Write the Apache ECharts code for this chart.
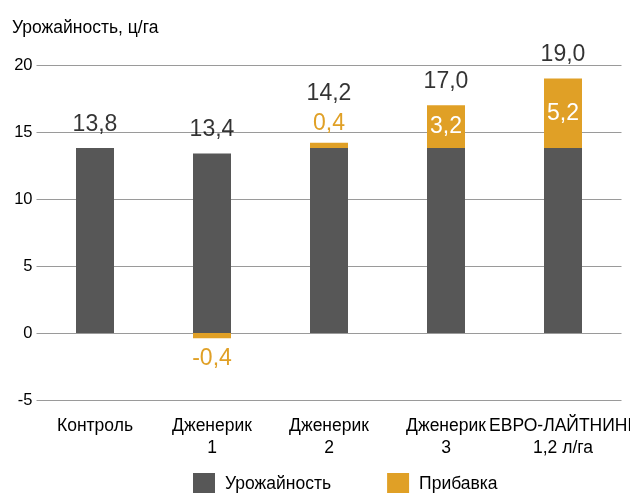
<!DOCTYPE html>
<html>
<head>
<meta charset="utf-8">
<script src="https://cdn.jsdelivr.net/npm/echarts@6/dist/echarts.min.js"></script>
<style>
  html, body { margin: 0; padding: 0; background: #fff; }
  #chart { width: 630px; height: 493px; }
</style>
</head>
<body>
<div id="chart"></div>
<script>
// категории и значения
const categories = ['Контроль', 'Дженерик\n1', 'Дженерик\n2', 'Дженерик\n3', 'ЕВРО-ЛАЙТНИНГ\n1,2 л/га'];
const baseYield = [13.8, 13.4, 13.8, 13.8, 13.8];
const gain = [0, -0.4, 0.4, 3.2, 5.2];
const totals = [13.8, 13.4, 14.2, 17.0, 19.0];
const yTicks = [-5, 0, 5, 10, 15, 20];

const DARK = '#575757';
const ORANGE = '#e0a026';
const FONT = '"Liberation Sans", Arial, Helvetica, sans-serif';

const fmt = v => v.toFixed(1).replace('.', ',');

// прибавка: маленькие значения подписываем снаружи, большие внутри
const gainData = gain.map(v => {
  if (v === 0) return { value: v, label: { show: false } };
  if (v < 0) return { value: v, label: { show: true, position: 'bottom', distance: 9, color: ORANGE } };
  if (v < 1) return { value: v, label: { show: true, position: 'top', distance: 8, color: ORANGE } };
  return { value: v, label: { show: true, position: 'inside', color: '#fff' } };
});

// итоговые подписи над столбиками
const totalData = totals.map((v, i) => ({
  value: v,
  label: { distance: (gain[i] > 0 && gain[i] < 1) ? 38 : 12 }
}));

const chart = echarts.init(document.getElementById('chart'));
chart.setOption({
  animation: false,
  textStyle: { fontFamily: FONT },
  title: {
    text: 'Урожайность, ц/га',
    left: 7,
    top: 14,
    textStyle: { fontFamily: FONT, fontSize: 17.5, fontWeight: 'normal', color: '#000' }
  },
  legend: {
    data: ['Урожайность', 'Прибавка'],
    left: 193,
    top: 473,
    padding: 0,
    itemWidth: 22,
    itemHeight: 22,
    itemGap: 56,
    icon: 'rect',
    textStyle: { fontFamily: FONT, fontSize: 17.5, color: '#000', padding: [0, 0, 0, 5] }
  },
  grid: { left: 36.5, right: 8.5, top: 65, bottom: 93, outerBoundsMode: 'none', containLabel: false },
  xAxis: {
    type: 'category',
    data: categories,
    axisLine: { show: false },
    axisTick: { show: false },
    axisLabel: {
      interval: 0,
      margin: 15,
      fontFamily: FONT,
      fontSize: 17.5,
      lineHeight: 22,
      color: '#000'
    }
  },
  yAxis: {
    type: 'value',
    min: yTicks[0],
    max: yTicks[yTicks.length - 1],
    interval: 5,
    axisLine: { show: false },
    axisTick: { show: false },
    axisLabel: { margin: 4, fontFamily: FONT, fontSize: 16.5, color: '#000' },
    splitLine: { lineStyle: { color: '#9a9a9a', width: 1 } }
  },
  series: [
    {
      name: 'Урожайность',
      type: 'bar',
      stack: 'total',
      barWidth: 38,
      itemStyle: { color: DARK },
      data: baseYield
    },
    {
      name: 'Прибавка',
      type: 'bar',
      stack: 'total',
      barWidth: 38,
      itemStyle: { color: ORANGE },
      label: {
        fontFamily: FONT,
        fontSize: 23,
        formatter: p => fmt(p.value)
      },
      data: gainData
    },
    {
      name: 'Итого',
      type: 'scatter',
      symbolSize: 0,
      silent: true,
      z: 5,
      label: {
        show: true,
        position: 'top',
        fontFamily: FONT,
        fontSize: 23,
        color: '#000',
        formatter: p => fmt(p.value)
      },
      data: totalData
    }
  ]
});
</script>
</body>
</html>
